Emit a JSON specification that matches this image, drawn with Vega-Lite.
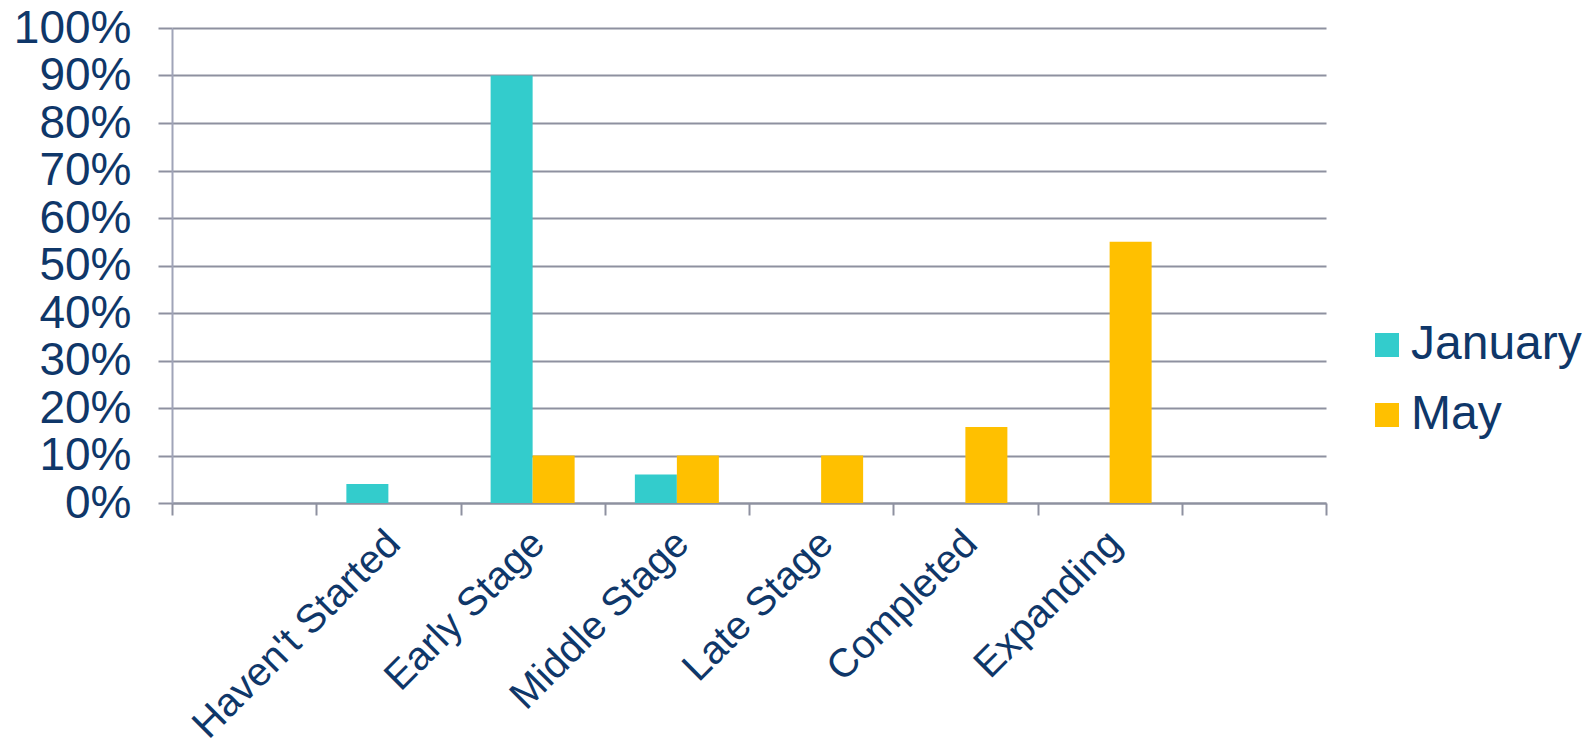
{
  "$schema": "https://vega.github.io/schema/vega-lite/v6.json",
  "width": 1154,
  "height": 475,
  "autosize": "none",
  "padding": {"left": 172, "top": 28, "right": 268, "bottom": 242},
  "background": "white",
  "config": {
    "view": {"stroke": null},
    "font": "Liberation Sans",
    "axis": {"labelFont": "Liberation Sans", "labelColor": "#0F3769"},
    "legend": {"labelFont": "Liberation Sans", "labelColor": "#0F3769"}
  },
  "data": {
    "values": [
      {"stage": "Haven't Started", "series": "January", "value": 0.04},
      {"stage": "Haven't Started", "series": "May", "value": 0},
      {"stage": "Early Stage", "series": "January", "value": 0.90},
      {"stage": "Early Stage", "series": "May", "value": 0.10},
      {"stage": "Middle Stage", "series": "January", "value": 0.06},
      {"stage": "Middle Stage", "series": "May", "value": 0.10},
      {"stage": "Late Stage", "series": "January", "value": 0},
      {"stage": "Late Stage", "series": "May", "value": 0.10},
      {"stage": "Completed", "series": "January", "value": 0},
      {"stage": "Completed", "series": "May", "value": 0.16},
      {"stage": "Expanding", "series": "January", "value": 0},
      {"stage": "Expanding", "series": "May", "value": 0.55}
    ]
  },
  "mark": {"type": "bar"},
  "encoding": {
    "x": {
      "field": "stage",
      "type": "nominal",
      "sort": null,
      "scale": {
        "domain": [" ", "Haven't Started", "Early Stage", "Middle Stage", "Late Stage", "Completed", "Expanding", "  "],
        "paddingInner": 0,
        "paddingOuter": 0
      },
      "axis": {
        "title": null,
        "tickBand": "extent",
        "domainColor": "#8E91A0",
        "domainWidth": 2,
        "tickColor": "#8E91A0",
        "tickWidth": 2,
        "tickSize": 12,
        "labelAngle": -45,
        "labelFontSize": 40,
        "labelPadding": 8,
        "labelOffset": -9,
        "labelOverlap": false,
        "labelLimit": 0
      }
    },
    "xOffset": {
      "field": "series",
      "type": "nominal",
      "scale": {"domain": ["January", "May"], "paddingInner": 0, "paddingOuter": 0.717}
    },
    "y": {
      "field": "value",
      "type": "quantitative",
      "scale": {"domain": [0, 1], "nice": false},
      "axis": {
        "title": null,
        "values": [0, 0.1, 0.2, 0.3, 0.4, 0.5, 0.6, 0.7, 0.8, 0.9, 1],
        "format": ".0%",
        "grid": true,
        "gridColor": "#8E91A0",
        "gridWidth": 2,
        "gridOpacity": 1,
        "domainColor": "#A0A4B8",
        "domainWidth": 2,
        "tickColor": "#8E91A0",
        "tickWidth": 2,
        "tickSize": 14,
        "labelFontSize": 46,
        "labelPadding": 27
      }
    },
    "color": {
      "field": "series",
      "type": "nominal",
      "scale": {"domain": ["January", "May"], "range": ["#33CCCC", "#FFC000"]},
      "legend": {
        "title": null,
        "orient": "none",
        "legendX": 1191,
        "legendY": 293,
        "padding": 0,
        "symbolType": "square",
        "symbolSize": 576,
        "symbolStrokeWidth": 0,
        "symbolOpacity": 1,
        "labelFontSize": 48,
        "labelOffset": 0,
        "labelLimit": 0,
        "rowPadding": 22
      }
    }
  }
}
